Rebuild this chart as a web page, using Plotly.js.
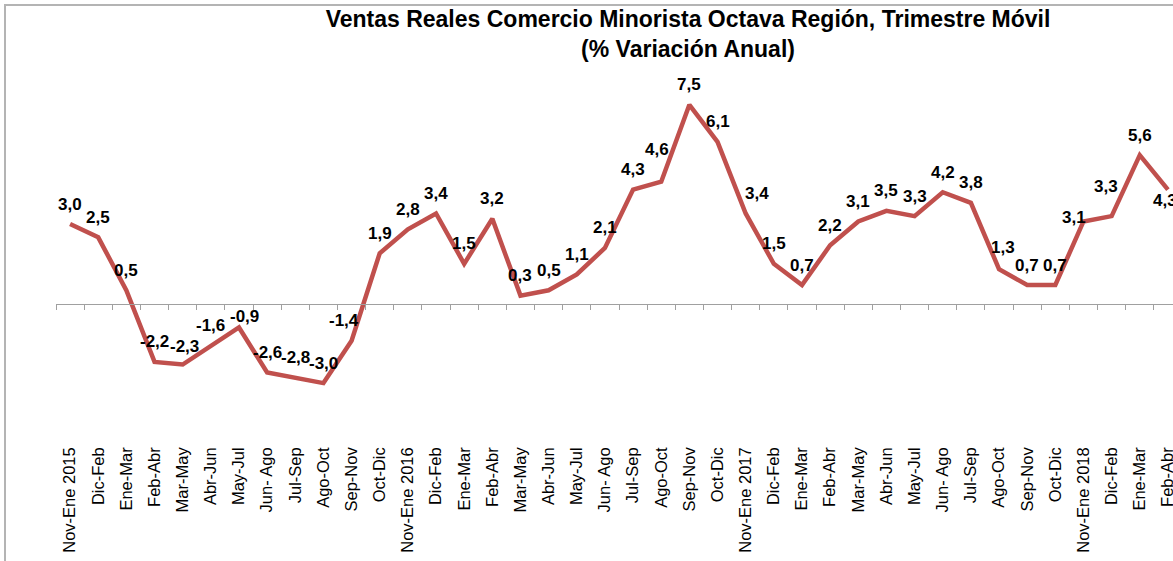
<!DOCTYPE html>
<html>
<head>
<meta charset="utf-8">
<script src="https://cdn.plot.ly/plotly-3.0.1.min.js"></script>
<style>
  html, body { margin: 0; padding: 0; width: 1173px; height: 561px; overflow: hidden; background: #fff; }
  #chart { position: absolute; left: 0; top: 0; }
  #frame { position: absolute; left: 4px; top: 4px; width: 1300px; height: 700px;
           border-left: 2px solid #b4b4b4; border-top: 2px solid #b4b4b4; pointer-events: none; }
</style>
</head>
<body>
<div id="chart"></div>
<div id="frame"></div>
<script>
// Categories (rolling quarters)
const categories = [
  "Nov-Ene 2015", "Dic-Feb", "Ene-Mar", "Feb-Abr", "Mar-May", "Abr-Jun", "May-Jul", "Jun- Ago",
  "Jul-Sep", "Ago-Oct", "Sep-Nov", "Oct-Dic",
  "Nov-Ene 2016", "Dic-Feb", "Ene-Mar", "Feb-Abr", "Mar-May", "Abr-Jun", "May-Jul", "Jun- Ago",
  "Jul-Sep", "Ago-Oct", "Sep-Nov", "Oct-Dic",
  "Nov-Ene 2017", "Dic-Feb", "Ene-Mar", "Feb-Abr", "Mar-May", "Abr-Jun", "May-Jul", "Jun- Ago",
  "Jul-Sep", "Ago-Oct", "Sep-Nov", "Oct-Dic",
  "Nov-Ene 2018", "Dic-Feb", "Ene-Mar", "Feb-Abr"
];

// Annual variation (%)
const variacion = [
  3.0, 2.5, 0.5, -2.2, -2.3, -1.6, -0.9, -2.6, -2.8, -3.0, -1.4, 1.9,
  2.8, 3.4, 1.5, 3.2, 0.3, 0.5, 1.1, 2.1, 4.3, 4.6, 7.5, 6.1,
  3.4, 1.5, 0.7, 2.2, 3.1, 3.5, 3.3, 4.2, 3.8, 1.3, 0.7, 0.7,
  3.1, 3.3, 5.6, 4.3
];

const titleText = "Ventas Reales Comercio Minorista Octava Región, Trimestre Móvil<br>(% Variación Anual)";

// Label placement tweaks (pixels), by point index: [dx, dy] ; default is above the point
const labelTweaks = {
  4: [2, -18], 6: [6, -11], 10: [-8, -20], 21: [-4, -32], 24: [11, -20],
  33: [4, -22], 36: [-9, -4], 37: [-6, -30], 39: [-3, 11]
};

const FONT = "Liberation Sans, Arial, sans-serif";
const idx = categories.map((_, i) => i);

const trace = {
  type: "scatter",
  mode: "lines",
  x: idx,
  y: variacion,
  line: { color: "#C0504D", width: 4.5 },
  hoverinfo: "skip",
  showlegend: false
};

const annotations = variacion.map((v, i) => {
  const t = labelTweaks[i] || [0, -20];
  return {
    x: i, y: v, xref: "x", yref: "y",
    text: v.toFixed(1).replace(".", ","),
    showarrow: false,
    xshift: t[0], yshift: -t[1],
    font: { family: FONT, size: 17, color: "#000", weight: "bold" }
  };
});

const yMin = -5.26, yMax = 9.19;

const layout = {
  width: 1190,
  height: 561,
  margin: { l: 56, r: 8, t: 60, b: 118 },
  paper_bgcolor: "#fff",
  plot_bgcolor: "rgba(0,0,0,0)",
  title: {
    text: titleText,
    font: { family: FONT, size: 23, color: "#000", weight: "bold" },
    x: 688 / 1190, xref: "container", xanchor: "center",
    y: 1 - 27 / 561, yref: "container", yanchor: "top"
  },
  xaxis: {
    type: "linear",
    range: [-0.5, categories.length - 0.5],
    tickvals: idx,
    ticktext: categories,
    tickangle: -90,
    ticks: "",
    showgrid: false,
    zeroline: false,
    showline: false,
    tickfont: { family: FONT, size: 16.5, color: "#000" }
  },
  xaxis2: {
    type: "linear",
    overlaying: "x",
    anchor: "free",
    position: (0 - yMin) / (yMax - yMin),
    range: [-0.5, categories.length - 0.5],
    tick0: -0.5, dtick: 1,
    ticks: "outside", ticklen: 5, tickcolor: "#a0a0a0", tickwidth: 1,
    showline: true, linecolor: "#a0a0a0", linewidth: 1,
    showticklabels: false, showgrid: false, zeroline: false
  },
  yaxis: {
    range: [yMin, yMax],
    visible: false,
    showgrid: false,
    zeroline: false
  },
  annotations: annotations
};

// dummy trace to activate xaxis2
const axisTrace = { type: "scatter", mode: "lines", x: [-0.5, categories.length - 0.5], y: [0, 0],
  xaxis: "x2", line: { width: 0, color: "rgba(0,0,0,0)" }, hoverinfo: "skip", showlegend: false };

Plotly.newPlot("chart", [axisTrace, trace], layout, { displayModeBar: false, staticPlot: true });
</script>
</body>
</html>
